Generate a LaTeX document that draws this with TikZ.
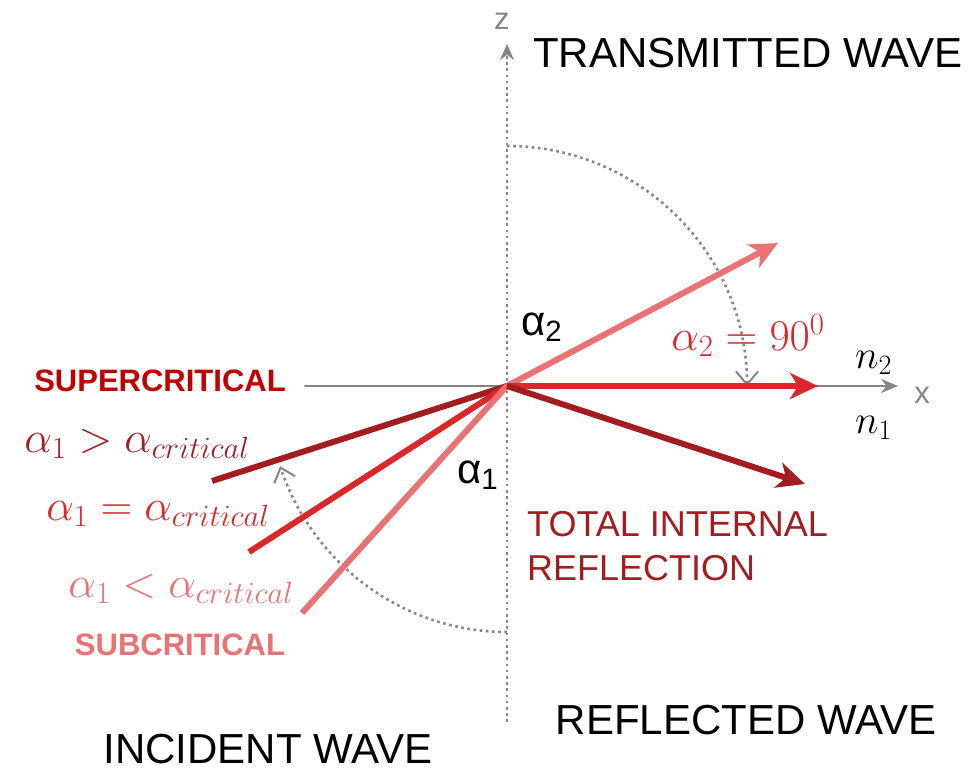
\RequirePackage{fix-cm}
\documentclass[tikz,border=0pt]{standalone}
\usepackage{fontspec}
\setsansfont{Liberation Sans}
\usetikzlibrary{arrows.meta}
\definecolor{supred}{HTML}{A31D20}
\definecolor{critred}{HTML}{DA282A}
\definecolor{subred}{HTML}{E87274}
\definecolor{labelred}{HTML}{C00000}
\definecolor{axisgray}{HTML}{858585}

\begin{document}
\begin{tikzpicture}[x=1pt,y=1pt,line cap=round,line join=round,
  every node/.style={inner sep=0pt},
  ray/.style={line width=6pt,line cap=butt},
  raytip/.style={-{Stealth[length=28pt,width=26pt,inset=8pt]}},
  dotline/.style={axisgray,line width=2.6pt,line cap=butt,dash pattern=on 2.6pt off 3.6pt},
  barb/.style={-{Straight Barb[length=13pt,width=22pt,line width=2pt]}},
  wavelabel/.style={font=\sffamily\fontsize{42}{42}\selectfont},
  regime/.style={font=\sffamily\bfseries\fontsize{31}{31}\selectfont},
  mathlabel/.style={font=\fontsize{44}{44}\selectfont,anchor=base}]
  \useasboundingbox (-507,-388) rectangle (473,386);
  \coordinate (O) at (0,0);
  \coordinate (Zbot) at (0,-336);
  \coordinate (Ztop) at (0,342);
  \coordinate (Xleft) at (-202,0);
  \coordinate (Xright) at (391,0);
  \coordinate (T) at (271,143);
  \coordinate (R) at (311,0);
  \coordinate (Rd) at (298,-98);
  \coordinate (Isup) at (-295,-95);
  \coordinate (Icrit) at (-258,-166);
  \coordinate (Isub) at (-205,-227);
  % axes
  \draw[dotline,-{Stealth[length=16pt,width=14pt]}] (Zbot) -- (Ztop);
  \draw[axisgray,line width=2pt,-{Stealth[length=17pt,width=14pt]}] (Xleft) -- (Xright);
  \node[axisgray,font=\sffamily\fontsize{31}{31}\selectfont] (zLbl) at (-5,365) {z};
  \node[axisgray,font=\sffamily\fontsize{31}{31}\selectfont] (xLbl) at (415,-9) {x};
  % angle arcs
  \draw[dotline,barb] (0,240) arc[start angle=90,end angle=0,radius=240];
  \draw[dotline,barb] (0,-246) arc[start angle=270,end angle=199,x radius=240,y radius=246];
  % rays
  \draw[ray,supred] (Isup) -- (O);
  \draw[ray,critred] (Icrit) -- (O);
  \draw[ray,subred] (Isub) -- (O);
  \draw[ray,subred,raytip] (O) -- (T);
  \draw[ray,critred,raytip] (O) -- (R);
  \draw[ray,supred,raytip] (O) -- (Rd);
  % labels
  \node[wavelabel] (transLbl) at (241,333) {TRANSMITTED WAVE};
  \node[wavelabel] (reflLbl) at (239,-334) {REFLECTED WAVE};
  \node[wavelabel] (incLbl) at (-239,-363) {INCIDENT WAVE};
  \node[wavelabel,supred,font=\sffamily\fontsize{36}{36}\selectfont,anchor=west] (tirTop) at (20,-138) {TOTAL INTERNAL};
  \node[wavelabel,supred,font=\sffamily\fontsize{36}{36}\selectfont,anchor=west] (tirBot) at (20,-182) {REFLECTION};
  \node[regime,labelred] (supLbl) at (-347,5) {SUPERCRITICAL};
  \node[regime,subred] (subLbl) at (-327,-259) {SUBCRITICAL};
  \node[mathlabel,supred] (supEq) at (-370,-66) {$\alpha_1>\alpha_{critical}$};
  \node[mathlabel,critred] (critEq) at (-349,-134) {$\alpha_1=\alpha_{critical}$};
  \node[mathlabel,subred] (subEq) at (-326,-211) {$\alpha_1<\alpha_{critical}$};
  \node[mathlabel,critred] (rightEq) at (241,36) {$\alpha_2=90^0$};
  \node[font=\fontsize{40}{40}\selectfont,anchor=base west] (nTwo) at (348,18) {$n_2$};
  \node[font=\fontsize{40}{40}\selectfont,anchor=base west] (nOne) at (348,-47) {$n_1$};
  \node[font=\sffamily\fontsize{42}{42}\selectfont,anchor=base west] (aTwo) at (14,51) {α\textsubscript{2}};
  \node[font=\sffamily\fontsize{42}{42}\selectfont,anchor=base west] (aOne) at (-50,-97) {α\textsubscript{1}};
\end{tikzpicture}
\end{document}
